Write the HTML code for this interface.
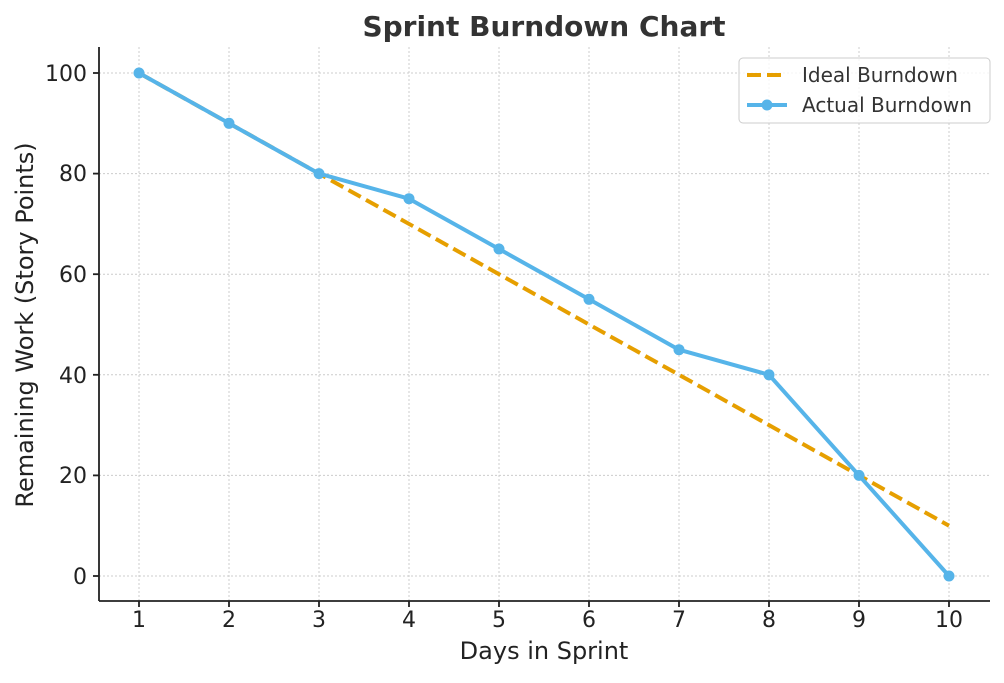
<!DOCTYPE html>
<html><head><meta charset="utf-8"><style>html,body{margin:0;padding:0;background:#fff}</style></head>
<body>
<svg width="1004" height="678" xmlns="http://www.w3.org/2000/svg" font-family="DejaVu Sans, Liberation Sans, sans-serif">
<rect width="1004" height="678" fill="#fff"/>
<g stroke="#cccccc" stroke-width="1" stroke-dasharray="2,2">
<line x1="139" y1="47" x2="139" y2="601"/><line x1="229" y1="47" x2="229" y2="601"/><line x1="319" y1="47" x2="319" y2="601"/><line x1="409" y1="47" x2="409" y2="601"/><line x1="499" y1="47" x2="499" y2="601"/><line x1="589" y1="47" x2="589" y2="601"/><line x1="679" y1="47" x2="679" y2="601"/><line x1="769" y1="47" x2="769" y2="601"/><line x1="859" y1="47" x2="859" y2="601"/><line x1="949" y1="47" x2="949" y2="601"/>
<line x1="99" y1="73" x2="990" y2="73"/><line x1="99" y1="173.6" x2="990" y2="173.6"/><line x1="99" y1="274.2" x2="990" y2="274.2"/><line x1="99" y1="374.8" x2="990" y2="374.8"/><line x1="99" y1="475.4" x2="990" y2="475.4"/><line x1="99" y1="576" x2="990" y2="576"/>
</g>
<g stroke="#222" stroke-width="1.8">
<line x1="99" y1="47" x2="99" y2="601"/><line x1="99" y1="601" x2="990" y2="601"/>
<line x1="139" y1="601" x2="139" y2="607"/><line x1="229" y1="601" x2="229" y2="607"/><line x1="319" y1="601" x2="319" y2="607"/><line x1="409" y1="601" x2="409" y2="607"/><line x1="499" y1="601" x2="499" y2="607"/><line x1="589" y1="601" x2="589" y2="607"/><line x1="679" y1="601" x2="679" y2="607"/><line x1="769" y1="601" x2="769" y2="607"/><line x1="859" y1="601" x2="859" y2="607"/><line x1="949" y1="601" x2="949" y2="607"/>
<line x1="93" y1="73" x2="99" y2="73"/><line x1="93" y1="173.6" x2="99" y2="173.6"/><line x1="93" y1="274.2" x2="99" y2="274.2"/><line x1="93" y1="374.8" x2="99" y2="374.8"/><line x1="93" y1="475.4" x2="99" y2="475.4"/><line x1="93" y1="576" x2="99" y2="576"/>
</g>
<g font-size="22" fill="#222" text-anchor="middle">
<text x="139" y="627">1</text><text x="229" y="627">2</text><text x="319" y="627">3</text><text x="409" y="627">4</text><text x="499" y="627">5</text><text x="589" y="627">6</text><text x="679" y="627">7</text><text x="769" y="627">8</text><text x="859" y="627">9</text><text x="949" y="627">10</text>
</g>
<g font-size="22" fill="#222" text-anchor="end">
<text x="87" y="81">100</text><text x="87" y="181">80</text><text x="87" y="282">60</text><text x="87" y="383">40</text><text x="87" y="483">20</text><text x="87" y="584">0</text>
</g>
<text x="544" y="659" font-size="24" fill="#222" text-anchor="middle">Days in Sprint</text>
<text transform="translate(33,325) rotate(-90)" font-size="24" fill="#222" text-anchor="middle">Remaining Work (Story Points)</text>
<text x="544" y="36" font-size="28" font-weight="bold" fill="#333" text-anchor="middle">Sprint Burndown Chart</text>
<polyline fill="none" stroke="#E69F00" stroke-width="4" stroke-dasharray="14,6" points="139,73 949,525.7"/>
<polyline fill="none" stroke="#56B4E9" stroke-width="4" stroke-linejoin="round" points="139,73 229,123.3 319,173.6 409,198.7 499,249 589,299.3 679,349.7 769,374.8 859,475.4 949,576"/>
<g fill="#56B4E9">
<circle cx="139" cy="73" r="5.5"/><circle cx="229" cy="123.3" r="5.5"/><circle cx="319" cy="173.6" r="5.5"/><circle cx="409" cy="198.7" r="5.5"/><circle cx="499" cy="249" r="5.5"/><circle cx="589" cy="299.3" r="5.5"/><circle cx="679" cy="349.7" r="5.5"/><circle cx="769" cy="374.8" r="5.5"/><circle cx="859" cy="475.4" r="5.5"/><circle cx="949" cy="576" r="5.5"/>
</g>
<rect x="739" y="58" width="251" height="65" rx="4" fill="#fff" fill-opacity="0.8" stroke="#ccc" stroke-width="1"/>
<line x1="747" y1="75" x2="787" y2="75" stroke="#E69F00" stroke-width="4" stroke-dasharray="14,6"/>
<text x="802" y="82" font-size="20" fill="#333">Ideal Burndown</text>
<line x1="747" y1="105" x2="787" y2="105" stroke="#56B4E9" stroke-width="4"/>
<circle cx="767" cy="105" r="5.5" fill="#56B4E9"/>
<text x="802" y="112" font-size="20" fill="#333">Actual Burndown</text>
</svg>
</body></html>
